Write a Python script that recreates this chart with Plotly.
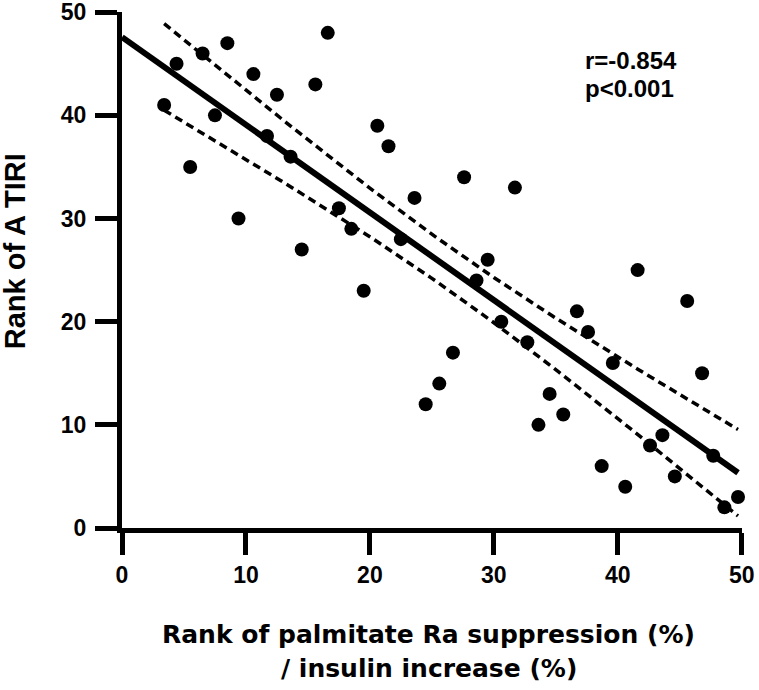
import numpy as np
import plotly.graph_objects as go

# rank of palmitate Ra suppression / insulin increase
rank_palmitate = [3.4, 4.4, 5.5, 6.5, 7.5, 8.5, 9.4, 10.6, 11.7, 12.5,
                  13.6, 14.5, 15.6, 16.6, 17.5, 18.5, 19.5, 20.6, 21.5, 22.5,
                  23.6, 24.5, 25.6, 26.7, 27.6, 28.6, 29.5, 30.6, 31.7, 32.7,
                  33.6, 34.5, 35.6, 36.7, 37.6, 38.7, 39.6, 40.6, 41.6, 42.6,
                  43.6, 44.6, 45.6, 46.8, 47.7, 48.6, 49.7]
# rank of ATIRI
rank_atiri = [41, 45, 35, 46, 40, 47, 30, 44, 38, 42,
              36, 27, 43, 48, 31, 29, 23, 39, 37, 28,
              32, 12, 14, 17, 34, 24, 26, 20, 33, 18,
              10, 13, 11, 21, 19, 6, 16, 4, 25, 8,
              9, 5, 22, 15, 7, 2, 3]

x_ticks = [0, 10, 20, 30, 40, 50]
y_ticks = [0, 10, 20, 30, 40, 50]

x = np.array(rank_palmitate)
y = np.array(rank_atiri)

# linear fit with 95% confidence band of the mean
slope, intercept = np.polyfit(x, y, 1)
n = len(x)
resid = y - (slope * x + intercept)
s = np.sqrt(np.sum(resid ** 2) / (n - 2))
sxx = np.sum((x - x.mean()) ** 2)
t_crit = 2.014  # t(0.975, df=45)

x_line = np.linspace(0, x.max(), 100)
y_line = slope * x_line + intercept
x_band = np.linspace(x.min(), x.max(), 100)
half = t_crit * s * np.sqrt(1.0 / n + (x_band - x.mean()) ** 2 / sxx)
y_fit_band = slope * x_band + intercept

fig = go.Figure()

fig.add_trace(go.Scatter(x=x_band, y=y_fit_band + half, mode='lines',
                         line=dict(color='black', width=3.5, dash='8px,5px'),
                         cliponaxis=False))
fig.add_trace(go.Scatter(x=x_band, y=y_fit_band - half, mode='lines',
                         line=dict(color='black', width=3.5, dash='8px,5px'),
                         cliponaxis=False))
fig.add_trace(go.Scatter(x=x_line, y=y_line, mode='lines',
                         line=dict(color='black', width=6),
                         cliponaxis=False))
fig.add_trace(go.Scatter(x=x, y=y, mode='markers',
                         marker=dict(size=14, color='black'),
                         cliponaxis=False))

tick_font = dict(family='Liberation Sans, Arial, sans-serif', size=23,
                 color='black', weight='bold')

fig.update_xaxes(range=[0, 50.02], tickvals=x_ticks, ticks='outside', ticklen=22,
                 tickwidth=5, tickcolor='black', showline=True, linewidth=5,
                 linecolor='black', showgrid=False, zeroline=False,
                 tickfont=tick_font, ticklabelstandoff=0,
                 automargin=False, ticklabeloverflow='allow')
fig.update_yaxes(range=[0, 50.02], tickvals=y_ticks, ticks='outside', ticklen=22,
                 tickwidth=5, tickcolor='black', showline=True, linewidth=5,
                 linecolor='black', showgrid=False, zeroline=False,
                 tickfont=tick_font, ticklabelstandoff=4,
                 automargin=False, ticklabeloverflow='allow')

stat_font = dict(family='Liberation Sans, Arial, sans-serif', size=24, color='black')
fig.add_annotation(text='<b>r=-0.854</b>', xref='x', yref='y',
                   x=37.2, y=45.35, xanchor='left', yanchor='middle',
                   showarrow=False, font=stat_font)
fig.add_annotation(text='<b>p&lt;0.001</b>', xref='x', yref='y',
                   x=37.2, y=42.6, xanchor='left', yanchor='middle',
                   showarrow=False, font=stat_font)

fig.add_annotation(text='<b>Rank of A TIRI</b>', xref='paper', yref='paper',
                   x=-0.172, y=0.537, textangle=-90, showarrow=False,
                   xanchor='center', yanchor='middle',
                   font=dict(family='Liberation Sans, Arial, sans-serif', size=29, color='black'))

title_font = dict(family='DejaVu Sans, sans-serif', size=25, color='black')
fig.add_annotation(text='<b>Rank of palmitate Ra suppression (%)</b>', xref='paper', yref='paper',
                   x=0.495, y=-0.207, showarrow=False, xanchor='center', yanchor='middle',
                   font=title_font)
fig.add_annotation(text='<b>/ insulin increase (%)</b>', xref='paper', yref='paper',
                   x=0.495, y=-0.272, showarrow=False, xanchor='center', yanchor='middle',
                   font=title_font)

fig.update_layout(
    width=759,
    height=690,
    margin=dict(l=122, r=17, t=12, b=162),
    plot_bgcolor='white',
    paper_bgcolor='white',
    showlegend=False,
)

# page margin off so the figure sits at the window origin
fig.write_html("out.html", config={'displayModeBar': False},
               post_script="document.body.style.margin='0';")
